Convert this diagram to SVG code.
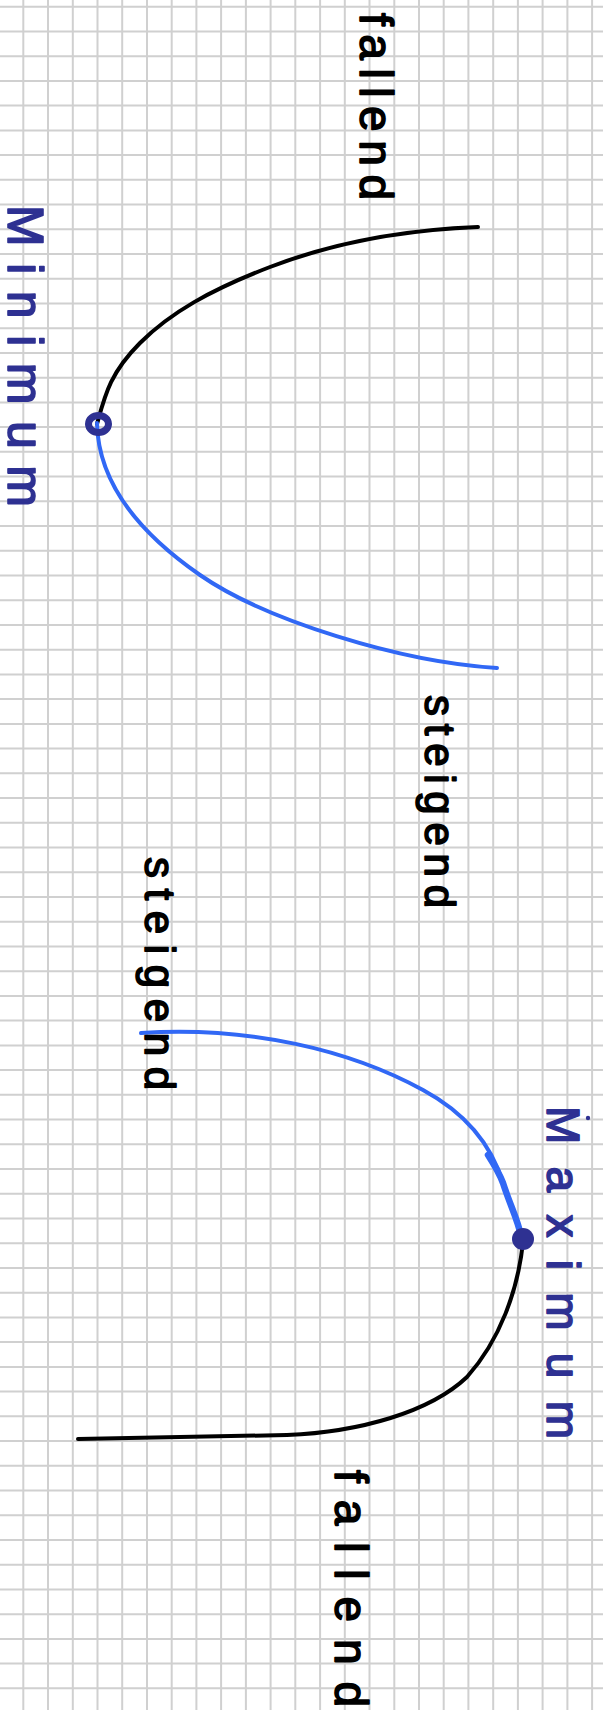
<svg xmlns="http://www.w3.org/2000/svg" width="603" height="1710" viewBox="0 0 603 1710">
<style>
.grid{stroke:#d0d0d0;stroke-width:2;fill:none}
.ink{fill:none;stroke-linecap:round;stroke-linejoin:round}
.blk{stroke:#000;stroke-width:4}
.blu{stroke:#3168f5;stroke-width:4}
.lbl{font-family:"Liberation Sans",Arial,sans-serif;font-size:46px;stroke-width:1.6;stroke-linejoin:round}
.k{fill:#000;stroke:#000}
.n{fill:#2e3192;stroke:#2e3192}
</style>
<rect width="603" height="1710" fill="#fff"/>
<g id="grid">
<path class="grid" d="M23.3 0V1710M48 0V1710M72.8 0V1710M97.5 0V1710M122.2 0V1710M147 0V1710M171.7 0V1710M196.4 0V1710M221.1 0V1710M245.9 0V1710M270.6 0V1710M295.3 0V1710M320.1 0V1710M344.8 0V1710M369.5 0V1710M394.3 0V1710M419 0V1710M443.7 0V1710M468.4 0V1710M493.2 0V1710M517.9 0V1710M542.6 0V1710M567.4 0V1710M592.1 0V1710"/>
<path class="grid" d="M0 6.7H603M0 31.4H603M0 56.2H603M0 80.9H603M0 105.6H603M0 130.4H603M0 155.1H603M0 179.8H603M0 204.5H603M0 229.3H603M0 254H603M0 278.7H603M0 303.5H603M0 328.2H603M0 352.9H603M0 377.7H603M0 402.4H603M0 427.1H603M0 451.8H603M0 476.6H603M0 501.3H603M0 526H603M0 550.8H603M0 575.5H603M0 600.2H603M0 625H603M0 649.7H603M0 674.4H603M0 699.1H603M0 723.9H603M0 748.6H603M0 773.3H603M0 798.1H603M0 822.8H603M0 847.5H603M0 872.3H603M0 897H603M0 921.7H603M0 946.4H603M0 971.2H603M0 995.9H603M0 1020.6H603M0 1045.4H603M0 1070.1H603M0 1094.8H603M0 1119.6H603M0 1144.3H603M0 1169H603M0 1193.7H603M0 1218.5H603M0 1243.2H603M0 1267.9H603M0 1292.7H603M0 1317.4H603M0 1342.1H603M0 1366.9H603M0 1391.6H603M0 1416.3H603M0 1441H603M0 1465.8H603M0 1490.5H603M0 1515.2H603M0 1540H603M0 1564.7H603M0 1589.4H603M0 1614.2H603M0 1638.9H603M0 1663.6H603M0 1688.3H603"/>
</g>
<g id="curves">
<path class="ink blk" d="M478,227 C400,230 330,244 270,267 S170,313 140,343 S105,395 97,424"/>
<path class="ink blu" d="M97,423 C98,480 135,530 200,575 C265,620 400,662 497,668"/>
<path class="ink blu" d="M141,1033 C250,1026 350,1050 423,1090 C460,1110 490,1140 503,1183 C510,1205 518,1220 521,1236"/>
<path class="ink blu" style="stroke-width:6.5" d="M488,1155 C495,1166 500,1175 503,1183 C510,1205 518,1220 521,1236"/>
<path class="ink blk" d="M523,1242 C518,1290 500,1340 467,1377 C430,1412 360,1432 287,1435 L78,1439"/>
</g>
<g id="minimum-point">
<ellipse cx="98.5" cy="424" rx="10" ry="8.5" fill="none" stroke="#2e3192" stroke-width="7"/>
</g>
<g id="maximum-point">
<circle cx="523" cy="1239" r="11" fill="#2e3192"/>
</g>
<g id="label-fallend-top">
<text class="lbl k" transform="translate(360,13) rotate(90)" textLength="187" lengthAdjust="spacing">fallend</text>
</g>
<g id="label-minimum">
<text class="lbl n" transform="translate(8,205) rotate(90)" style="font-size:50px" textLength="302" lengthAdjust="spacing">Minimum</text>
</g>
<g id="label-steigend-1">
<text class="lbl k" transform="translate(425,695) rotate(90)" style="font-size:42px" textLength="213" lengthAdjust="spacing">steigend</text>
</g>
<g id="label-steigend-2">
<text class="lbl k" transform="translate(145,857) rotate(90)" style="font-size:42px" textLength="233" lengthAdjust="spacing">steigend</text>
</g>
<g id="label-maximum">
<text class="lbl n" transform="translate(547,1106) rotate(90)" textLength="333" lengthAdjust="spacing">Maximum</text>
<circle cx="588" cy="1118" r="2.2" fill="#2e3192"/>
</g>
<g id="label-fallend-bottom">
<text class="lbl k" transform="translate(335,1470) rotate(90)" textLength="237" lengthAdjust="spacing">fallend</text>
</g>
</svg>
